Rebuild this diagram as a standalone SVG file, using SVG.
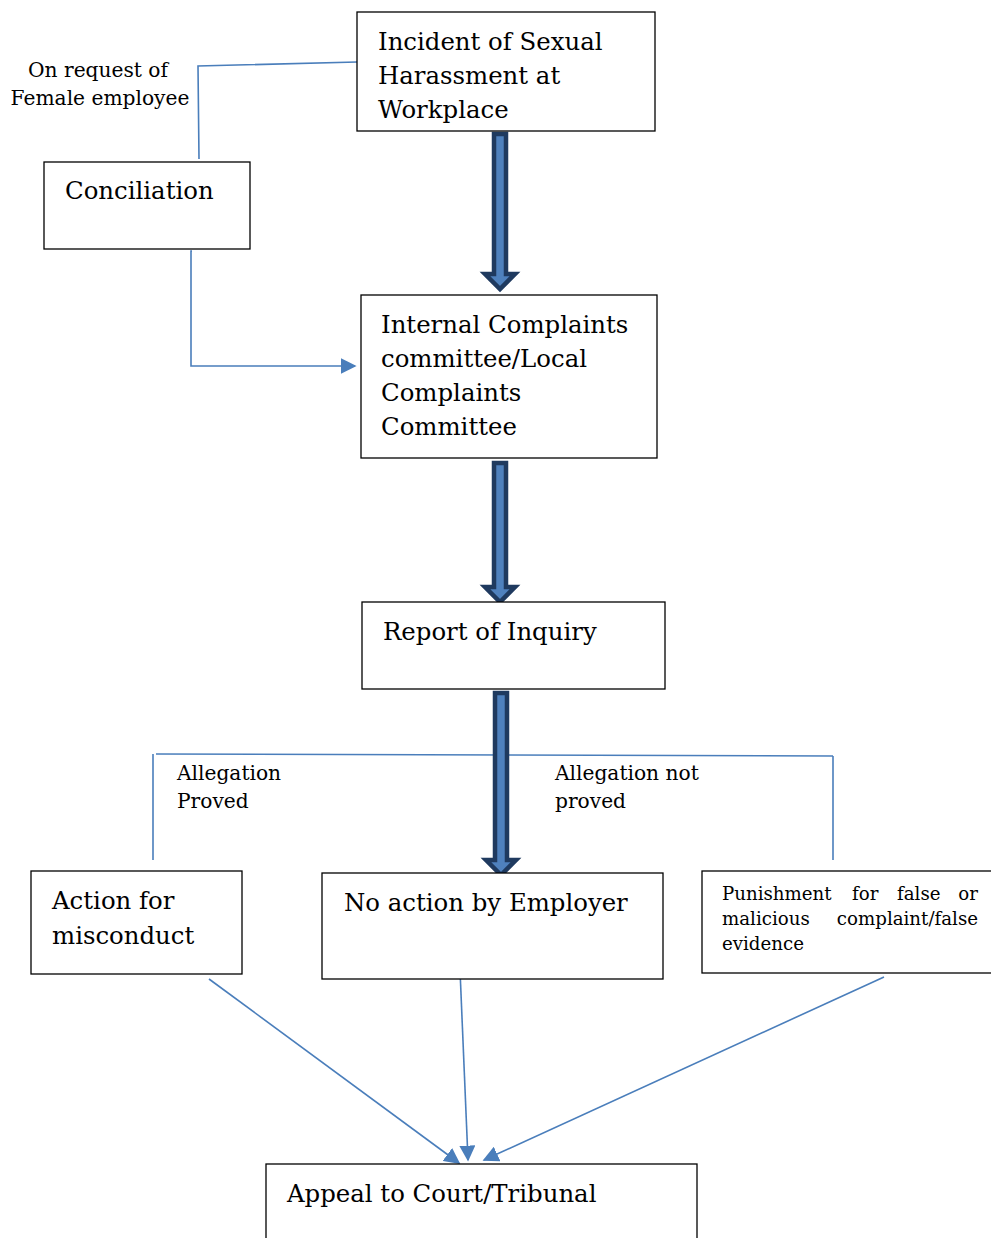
<svg xmlns="http://www.w3.org/2000/svg" width="991" height="1238" viewBox="0 0 991 1238">
<style>
.box{fill:#fff;stroke:#000;stroke-width:1.3}
.t{font-family:"DejaVu Serif","Liberation Serif",serif;font-size:24.4px;fill:#000}
.s{font-family:"DejaVu Serif","Liberation Serif",serif;font-size:20.2px;fill:#000}
.p{font-family:"DejaVu Serif","Liberation Serif",serif;font-size:18.2px;fill:#000}
.c{fill:none;stroke:#4a7ebb;stroke-width:1.6}
.big{fill:#4f81bd;stroke:#1f3a5f;stroke-width:4.5;stroke-linejoin:miter}
</style>
<defs>
<marker id="ah2" viewBox="0 0 10 10" refX="9" refY="5" markerWidth="16" markerHeight="16" orient="auto" markerUnits="userSpaceOnUse">
<path d="M0,0 L10,5 L0,10 z" fill="#4a7ebb"/>
</marker>
</defs>
<g id="connectors">
<polyline class="c" points="357,62 198,66 199,159"/>
<polyline class="c" points="192,251 191,251 191,366 355,366" marker-end="url(#ah2)"/>
<polyline class="c" points="156,754 833,756"/>
<line class="c" x1="153" y1="754" x2="153" y2="860"/>
<line class="c" x1="833" y1="756" x2="833" y2="860"/>
<line class="c" x1="209" y1="979" x2="459" y2="1163" marker-end="url(#ah2)"/>
<line class="c" x1="460" y1="970" x2="468" y2="1160" marker-end="url(#ah2)"/>
<line class="c" x1="884" y1="977" x2="484" y2="1160" marker-end="url(#ah2)"/>
<path class="big" d="M494,134 L506,134 L506,274 L515,274 L500,289 L485,274 L494,274 Z"/>
<path class="big" d="M494,463 L506,463 L506,587 L515,587 L500,602 L485,587 L494,587 Z"/>
<path class="big" d="M495,693 L507,693 L507,860 L516,860 L501,875 L486,860 L495,860 Z"/>
</g>
<g id="incident">
<rect class="box" x="357" y="12" width="298" height="119"/>
<text class="t" x="378" y="50">Incident of Sexual</text>
<text class="t" x="378" y="84">Harassment at</text>
<text class="t" x="378" y="118">Workplace</text>
</g>
<g id="label-request">
<text class="s" x="98" y="77" text-anchor="middle">On request of</text>
<text class="s" x="100" y="105" text-anchor="middle">Female employee</text>
</g>
<g id="conciliation">
<rect class="box" x="44" y="162" width="206" height="87"/>
<text class="t" x="65" y="199">Conciliation</text>
</g>
<g id="icc">
<rect class="box" x="361" y="295" width="296" height="163"/>
<text class="t" x="381" y="333">Internal Complaints</text>
<text class="t" x="381" y="367">committee/Local</text>
<text class="t" x="381" y="401">Complaints</text>
<text class="t" x="381" y="435">Committee</text>
</g>
<g id="report">
<rect class="box" x="362" y="602" width="303" height="87"/>
<text class="t" x="383" y="640">Report of Inquiry</text>
</g>
<g id="label-proved">
<text class="s" x="177" y="780">Allegation</text>
<text class="s" x="177" y="808">Proved</text>
</g>
<g id="label-notproved">
<text class="s" x="555" y="780">Allegation not</text>
<text class="s" x="555" y="808">proved</text>
</g>
<g id="action">
<rect class="box" x="31" y="871" width="211" height="103"/>
<text class="t" x="52" y="909">Action for</text>
<text class="t" x="52" y="944">misconduct</text>
</g>
<g id="noaction">
<rect class="box" x="322" y="873" width="341" height="106"/>
<text class="t" x="344" y="911">No action by Employer</text>
</g>
<g id="punishment">
<rect class="box" x="702" y="871" width="300" height="102"/>
<text class="p" y="900"><tspan x="722">Punishment</tspan><tspan x="852">for</tspan><tspan x="897">false</tspan></text>
<text class="p" x="978" y="900" text-anchor="end">or</text>
<text class="p" x="722" y="925">malicious</text>
<text class="p" x="978" y="925" text-anchor="end">complaint/false</text>
<text class="p" x="722" y="950">evidence</text>
</g>
<g id="appeal">
<rect class="box" x="266" y="1164" width="431" height="90"/>
<text class="t" x="287" y="1202">Appeal to Court/Tribunal</text>
</g>
</svg>
